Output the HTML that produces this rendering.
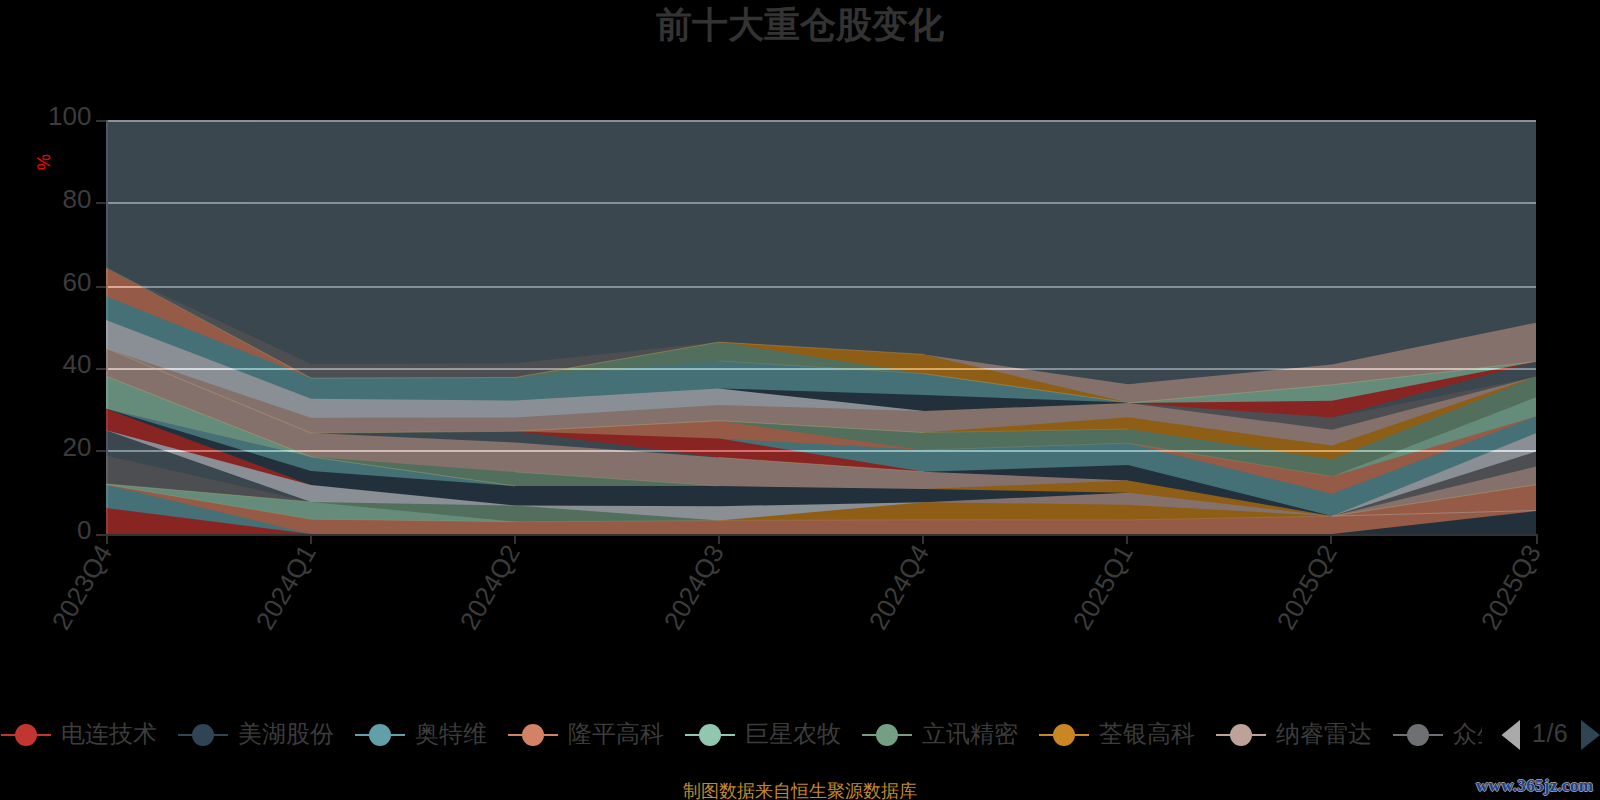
<!DOCTYPE html>
<html><head><meta charset="utf-8"><style>
html,body{margin:0;padding:0;background:#000;width:1600px;height:800px;overflow:hidden}
body{position:relative;font-family:"Liberation Sans",sans-serif}
svg{position:absolute;left:0;top:0}
.title{position:absolute;left:0;width:1600px;top:0.5px;text-align:center;font-size:36px;font-weight:bold;color:#333;line-height:48px}
.yl{position:absolute;left:0;width:91.5px;text-align:right;font-size:26px;color:#3c3c3c;line-height:28px}
.xl{position:absolute;width:200px;text-align:right;font-size:26px;color:#3c3c3c;line-height:30px;transform-origin:100% 50%;transform:rotate(-60deg)}
.pct{position:absolute;left:34px;top:151px;width:20px;height:22px;text-align:center;color:#f00;font-size:18px;transform:rotate(-90deg);line-height:22px}
.legwrap{position:absolute;left:0;top:715px;width:1482px;height:40px;overflow:hidden}
.li{position:absolute;top:0;height:40px;white-space:nowrap}
.ln{position:absolute;left:0;top:19px;width:50px;height:2px}
.dot{position:absolute;left:14px;top:9px;width:22px;height:22px;border-radius:50%}
.lt{position:absolute;left:60px;top:2.5px;font-size:24px;line-height:32px;color:#3c3c3c}
.pg{position:absolute;left:1532px;top:716.5px;font-size:25px;letter-spacing:0.5px;color:#3c3c3c;line-height:32px}
.foot{position:absolute;left:0;width:1600px;top:779.5px;text-align:center;font-size:18px;color:#c08a2a;line-height:22px}
.wm{position:absolute;left:1476px;top:774.5px;font-family:"Liberation Serif",serif;font-weight:bold;font-size:17px;letter-spacing:0.3px;color:#1a4290;line-height:22px;text-shadow:1px 0 0 #999,-1px 0 0 #999,0 1px 0 #999,0 -1px 0 #999}
</style></head><body>
<svg width="1600" height="800" viewBox="0 0 1600 800">
<rect x="0" y="0" width="1600" height="800" fill="#000"/>
<rect x="106" y="120" width="1430" height="2" fill="#fff"/>
<rect x="106" y="202" width="1430" height="2" fill="#fff"/>
<rect x="106" y="286" width="1430" height="2" fill="#fff"/>
<rect x="106" y="368" width="1430" height="2" fill="#fff"/>
<rect x="106" y="450" width="1430" height="2" fill="#fff"/>
<rect x="106" y="120" width="2" height="414" fill="#3c3c3c"/>
<g opacity="0.7">
<polygon points="106.0,534.00 311.0,534.00 311.0,120.00 106.0,120.00" fill="#546570"/>
<polygon points="106.0,534.00 311.0,534.00 311.0,364.00 106.0,268.20" fill="#6e7074"/>
<polygon points="106.0,534.00 311.0,534.00 311.0,378.10 106.0,268.20" fill="#d48265"/>
<polygon points="106.0,534.00 311.0,534.00 311.0,378.10 106.0,296.20" fill="#61a0a8"/>
<polygon points="106.0,534.00 311.0,534.00 311.0,398.70 106.0,320.00" fill="#c4ccd3"/>
<polygon points="106.0,534.00 311.0,534.00 311.0,417.70 106.0,348.60" fill="#bda29a"/>
<polygon points="106.0,534.00 311.0,534.00 311.0,433.10 106.0,348.60" fill="#bda29a"/>
<polygon points="106.0,534.00 311.0,534.00 311.0,456.80 106.0,376.60" fill="#91c7ae"/>
<polygon points="106.0,534.00 311.0,534.00 311.0,456.80 106.0,408.75" fill="#61a0a8"/>
<polygon points="106.0,534.00 311.0,534.00 311.0,471.00 106.0,408.75" fill="#2f4554"/>
<polygon points="106.0,534.00 311.0,534.00 311.0,485.00 106.0,408.75" fill="#c23531"/>
<polygon points="106.0,534.00 311.0,534.00 311.0,485.00 106.0,430.30" fill="#c4ccd3"/>
<polygon points="106.0,534.00 311.0,534.00 311.0,501.90 106.0,430.30" fill="#546570"/>
<polygon points="106.0,534.00 311.0,534.00 311.0,501.90 106.0,455.60" fill="#6e7074"/>
<polygon points="106.0,534.00 311.0,534.00 311.0,501.90 106.0,484.00" fill="#91c7ae"/>
<polygon points="106.0,534.00 311.0,534.00 311.0,519.20 106.0,484.70" fill="#d48265"/>
<polygon points="106.0,534.00 311.0,534.00 311.0,534.00 106.0,484.70" fill="#61a0a8"/>
<polygon points="106.0,534.00 311.0,534.00 311.0,534.00 106.0,508.10" fill="#c23531"/>
<polygon points="311.0,534.00 515.0,534.00 515.0,120.00 311.0,120.00" fill="#546570"/>
<polygon points="311.0,534.00 515.0,534.00 515.0,363.20 311.0,364.00" fill="#6e7074"/>
<polygon points="311.0,534.00 515.0,534.00 515.0,377.50 311.0,378.10" fill="#61a0a8"/>
<polygon points="311.0,534.00 515.0,534.00 515.0,400.60 311.0,398.70" fill="#c4ccd3"/>
<polygon points="311.0,534.00 515.0,534.00 515.0,417.50 311.0,417.70" fill="#bda29a"/>
<polygon points="311.0,534.00 515.0,534.00 515.0,431.30 311.0,433.10" fill="#546570"/>
<polygon points="311.0,534.00 515.0,534.00 515.0,442.50 311.0,433.10" fill="#bda29a"/>
<polygon points="311.0,534.00 515.0,534.00 515.0,472.00 311.0,456.80" fill="#749f83"/>
<polygon points="311.0,534.00 515.0,534.00 515.0,486.00 311.0,456.80" fill="#61a0a8"/>
<polygon points="311.0,534.00 515.0,534.00 515.0,486.00 311.0,471.00" fill="#2f4554"/>
<polygon points="311.0,534.00 515.0,534.00 515.0,505.50 311.0,485.00" fill="#c4ccd3"/>
<polygon points="311.0,534.00 515.0,534.00 515.0,505.50 311.0,501.90" fill="#749f83"/>
<polygon points="311.0,534.00 515.0,534.00 515.0,521.80 311.0,501.90" fill="#91c7ae"/>
<polygon points="311.0,534.00 515.0,534.00 515.0,521.80 311.0,519.20" fill="#d48265"/>
<polygon points="515.0,534.00 719.0,534.00 719.0,120.00 515.0,120.00" fill="#546570"/>
<polygon points="515.0,534.00 719.0,534.00 719.0,342.10 515.0,363.20" fill="#6e7074"/>
<polygon points="515.0,534.00 719.0,534.00 719.0,342.10 515.0,377.50" fill="#749f83"/>
<polygon points="515.0,534.00 719.0,534.00 719.0,360.90 515.0,377.50" fill="#61a0a8"/>
<polygon points="515.0,534.00 719.0,534.00 719.0,388.40 515.0,400.60" fill="#c4ccd3"/>
<polygon points="515.0,534.00 719.0,534.00 719.0,404.90 515.0,417.50" fill="#bda29a"/>
<polygon points="515.0,534.00 719.0,534.00 719.0,420.75 515.0,431.30" fill="#d48265"/>
<polygon points="515.0,534.00 719.0,534.00 719.0,438.40 515.0,431.30" fill="#c23531"/>
<polygon points="515.0,534.00 719.0,534.00 719.0,457.50 515.0,431.30" fill="#546570"/>
<polygon points="515.0,534.00 719.0,534.00 719.0,457.50 515.0,442.50" fill="#bda29a"/>
<polygon points="515.0,534.00 719.0,534.00 719.0,486.00 515.0,472.00" fill="#749f83"/>
<polygon points="515.0,534.00 719.0,534.00 719.0,486.00 515.0,486.00" fill="#2f4554"/>
<polygon points="515.0,534.00 719.0,534.00 719.0,506.25 515.0,505.50" fill="#c4ccd3"/>
<polygon points="515.0,534.00 719.0,534.00 719.0,520.50 515.0,505.50" fill="#749f83"/>
<polygon points="515.0,534.00 719.0,534.00 719.0,520.50 515.0,521.80" fill="#d48265"/>
<polygon points="719.0,534.00 924.0,534.00 924.0,120.00 719.0,120.00" fill="#546570"/>
<polygon points="719.0,534.00 924.0,534.00 924.0,354.40 719.0,342.10" fill="#ca8622"/>
<polygon points="719.0,534.00 924.0,534.00 924.0,373.70 719.0,342.10" fill="#749f83"/>
<polygon points="719.0,534.00 924.0,534.00 924.0,373.70 719.0,360.90" fill="#61a0a8"/>
<polygon points="719.0,534.00 924.0,534.00 924.0,395.00 719.0,388.40" fill="#2f4554"/>
<polygon points="719.0,534.00 924.0,534.00 924.0,411.10 719.0,388.40" fill="#c4ccd3"/>
<polygon points="719.0,534.00 924.0,534.00 924.0,411.10 719.0,404.90" fill="#bda29a"/>
<polygon points="719.0,534.00 924.0,534.00 924.0,432.60 719.0,420.75" fill="#749f83"/>
<polygon points="719.0,534.00 924.0,534.00 924.0,450.00 719.0,420.75" fill="#d48265"/>
<polygon points="719.0,534.00 924.0,534.00 924.0,450.00 719.0,438.40" fill="#61a0a8"/>
<polygon points="719.0,534.00 924.0,534.00 924.0,471.75 719.0,438.40" fill="#c23531"/>
<polygon points="719.0,534.00 924.0,534.00 924.0,471.75 719.0,457.50" fill="#bda29a"/>
<polygon points="719.0,534.00 924.0,534.00 924.0,489.00 719.0,486.00" fill="#2f4554"/>
<polygon points="719.0,534.00 924.0,534.00 924.0,502.20 719.0,506.25" fill="#c4ccd3"/>
<polygon points="719.0,534.00 924.0,534.00 924.0,502.20 719.0,520.50" fill="#ca8622"/>
<polygon points="719.0,534.00 924.0,534.00 924.0,519.75 719.0,520.50" fill="#d48265"/>
<polygon points="924.0,534.00 1128.0,534.00 1128.0,120.00 924.0,120.00" fill="#546570"/>
<polygon points="924.0,534.00 1128.0,534.00 1128.0,384.35 924.0,354.40" fill="#bda29a"/>
<polygon points="924.0,534.00 1128.0,534.00 1128.0,402.60 924.0,354.40" fill="#ca8622"/>
<polygon points="924.0,534.00 1128.0,534.00 1128.0,402.60 924.0,373.70" fill="#61a0a8"/>
<polygon points="924.0,534.00 1128.0,534.00 1128.0,402.60 924.0,395.00" fill="#2f4554"/>
<polygon points="924.0,534.00 1128.0,534.00 1128.0,403.00 924.0,411.10" fill="#bda29a"/>
<polygon points="924.0,534.00 1128.0,534.00 1128.0,417.35 924.0,432.60" fill="#ca8622"/>
<polygon points="924.0,534.00 1128.0,534.00 1128.0,429.05 924.0,432.60" fill="#749f83"/>
<polygon points="924.0,534.00 1128.0,534.00 1128.0,443.20 924.0,450.00" fill="#61a0a8"/>
<polygon points="924.0,534.00 1128.0,534.00 1128.0,465.00 924.0,471.75" fill="#2f4554"/>
<polygon points="924.0,534.00 1128.0,534.00 1128.0,480.50 924.0,471.75" fill="#bda29a"/>
<polygon points="924.0,534.00 1128.0,534.00 1128.0,480.50 924.0,489.00" fill="#ca8622"/>
<polygon points="924.0,534.00 1128.0,534.00 1128.0,492.70 924.0,489.00" fill="#2f4554"/>
<polygon points="924.0,534.00 1128.0,534.00 1128.0,492.70 924.0,502.20" fill="#bda29a"/>
<polygon points="924.0,534.00 1128.0,534.00 1128.0,504.80 924.0,502.20" fill="#ca8622"/>
<polygon points="924.0,534.00 1128.0,534.00 1128.0,519.90 924.0,519.75" fill="#d48265"/>
<polygon points="1128.0,534.00 1332.0,534.00 1332.0,120.00 1128.0,120.00" fill="#546570"/>
<polygon points="1128.0,534.00 1332.0,534.00 1332.0,364.40 1128.0,384.35" fill="#bda29a"/>
<polygon points="1128.0,534.00 1332.0,534.00 1332.0,384.85 1128.0,403.00" fill="#91c7ae"/>
<polygon points="1128.0,534.00 1332.0,534.00 1332.0,400.80 1128.0,403.00" fill="#c23531"/>
<polygon points="1128.0,534.00 1332.0,534.00 1332.0,417.45 1128.0,403.00" fill="#6e7074"/>
<polygon points="1128.0,534.00 1332.0,534.00 1332.0,429.75 1128.0,403.00" fill="#bda29a"/>
<polygon points="1128.0,534.00 1332.0,534.00 1332.0,445.45 1128.0,417.35" fill="#ca8622"/>
<polygon points="1128.0,534.00 1332.0,534.00 1332.0,459.20 1128.0,429.05" fill="#749f83"/>
<polygon points="1128.0,534.00 1332.0,534.00 1332.0,476.50 1128.0,443.20" fill="#d48265"/>
<polygon points="1128.0,534.00 1332.0,534.00 1332.0,493.80 1128.0,443.20" fill="#61a0a8"/>
<polygon points="1128.0,534.00 1332.0,534.00 1332.0,516.10 1128.0,465.00" fill="#2f4554"/>
<polygon points="1128.0,534.00 1332.0,534.00 1332.0,516.10 1128.0,480.50" fill="#ca8622"/>
<polygon points="1128.0,534.00 1332.0,534.00 1332.0,516.10 1128.0,492.70" fill="#bda29a"/>
<polygon points="1128.0,534.00 1332.0,534.00 1332.0,516.10 1128.0,504.80" fill="#ca8622"/>
<polygon points="1128.0,534.00 1332.0,534.00 1332.0,516.10 1128.0,519.90" fill="#d48265"/>
<polygon points="1332.0,534.00 1536.0,534.00 1536.0,120.00 1332.0,120.00" fill="#546570"/>
<polygon points="1332.0,534.00 1536.0,534.00 1536.0,322.65 1332.0,364.40" fill="#bda29a"/>
<polygon points="1332.0,534.00 1536.0,534.00 1536.0,361.60 1332.0,384.85" fill="#91c7ae"/>
<polygon points="1332.0,534.00 1536.0,534.00 1536.0,361.60 1332.0,400.80" fill="#c23531"/>
<polygon points="1332.0,534.00 1536.0,534.00 1536.0,361.60 1332.0,417.45" fill="#546570"/>
<polygon points="1332.0,534.00 1536.0,534.00 1536.0,376.70 1332.0,417.45" fill="#6e7074"/>
<polygon points="1332.0,534.00 1536.0,534.00 1536.0,376.70 1332.0,429.75" fill="#bda29a"/>
<polygon points="1332.0,534.00 1536.0,534.00 1536.0,376.70 1332.0,445.45" fill="#ca8622"/>
<polygon points="1332.0,534.00 1536.0,534.00 1536.0,376.70 1332.0,459.20" fill="#749f83"/>
<polygon points="1332.0,534.00 1536.0,534.00 1536.0,397.30 1332.0,476.50" fill="#91c7ae"/>
<polygon points="1332.0,534.00 1536.0,534.00 1536.0,416.60 1332.0,476.50" fill="#d48265"/>
<polygon points="1332.0,534.00 1536.0,534.00 1536.0,416.60 1332.0,493.80" fill="#61a0a8"/>
<polygon points="1332.0,534.00 1536.0,534.00 1536.0,433.25 1332.0,516.10" fill="#c4ccd3"/>
<polygon points="1332.0,534.00 1536.0,534.00 1536.0,451.60 1332.0,516.10" fill="#6e7074"/>
<polygon points="1332.0,534.00 1536.0,534.00 1536.0,466.50 1332.0,516.10" fill="#bda29a"/>
<polygon points="1332.0,534.00 1536.0,534.00 1536.0,484.70 1332.0,516.10" fill="#d48265"/>
<polygon points="1332.0,534.00 1536.0,534.00 1536.0,510.50 1332.0,516.10" fill="#d48265"/>
<polygon points="1332.0,534.00 1536.0,534.00 1536.0,511.10 1332.0,534.00" fill="#2f4554"/>
</g>
<line x1="107" y1="268.2" x2="311" y2="378.1" stroke="rgba(200,190,120,0.32)" stroke-width="1"/>
<line x1="107" y1="348.6" x2="311" y2="433.1" stroke="rgba(200,190,120,0.32)" stroke-width="1"/>
<line x1="107" y1="376.6" x2="311" y2="456.8" stroke="rgba(200,190,120,0.32)" stroke-width="1"/>
<line x1="107" y1="484.0" x2="311" y2="501.9" stroke="rgba(200,190,120,0.32)" stroke-width="1"/>
<line x1="107" y1="484.7" x2="311" y2="519.2" stroke="rgba(200,190,120,0.18)" stroke-width="1"/>
<line x1="311" y1="378.1" x2="515" y2="377.5" stroke="rgba(200,190,120,0.32)" stroke-width="1"/>
<line x1="311" y1="433.1" x2="515" y2="431.3" stroke="rgba(200,190,120,0.32)" stroke-width="1"/>
<line x1="311" y1="456.8" x2="515" y2="486.0" stroke="rgba(200,190,120,0.32)" stroke-width="1"/>
<line x1="311" y1="519.2" x2="515" y2="521.8" stroke="rgba(200,190,120,0.18)" stroke-width="1"/>
<line x1="515" y1="377.5" x2="719" y2="342.1" stroke="rgba(220,160,70,0.38)" stroke-width="1"/>
<line x1="515" y1="431.3" x2="719" y2="420.75" stroke="rgba(200,190,120,0.32)" stroke-width="1"/>
<line x1="515" y1="472.0" x2="719" y2="486.0" stroke="rgba(200,190,120,0.18)" stroke-width="1"/>
<line x1="515" y1="521.8" x2="719" y2="520.5" stroke="rgba(200,190,120,0.18)" stroke-width="1"/>
<line x1="719" y1="342.1" x2="924" y2="354.4" stroke="rgba(220,160,70,0.38)" stroke-width="1"/>
<line x1="719" y1="420.75" x2="924" y2="432.6" stroke="rgba(200,190,120,0.32)" stroke-width="1"/>
<line x1="719" y1="457.5" x2="924" y2="471.75" stroke="rgba(200,190,120,0.32)" stroke-width="1"/>
<line x1="719" y1="520.5" x2="924" y2="519.75" stroke="rgba(200,190,120,0.18)" stroke-width="1"/>
<line x1="719" y1="360.9" x2="924" y2="373.7" stroke="rgba(200,190,120,0.18)" stroke-width="1"/>
<line x1="924" y1="373.7" x2="1128" y2="402.6" stroke="rgba(200,190,120,0.32)" stroke-width="1"/>
<line x1="924" y1="519.75" x2="1128" y2="519.9" stroke="rgba(200,190,120,0.18)" stroke-width="1"/>
<line x1="924" y1="432.6" x2="1128" y2="429.05" stroke="rgba(200,190,120,0.18)" stroke-width="1"/>
<line x1="924" y1="450.0" x2="1128" y2="443.2" stroke="rgba(200,190,120,0.18)" stroke-width="1"/>
<line x1="1128" y1="403.0" x2="1332" y2="384.85" stroke="rgba(200,190,120,0.32)" stroke-width="1"/>
<line x1="1128" y1="443.2" x2="1332" y2="476.5" stroke="rgba(200,190,120,0.18)" stroke-width="1"/>
<line x1="1128" y1="519.9" x2="1332" y2="516.1" stroke="rgba(200,190,120,0.18)" stroke-width="1"/>
<line x1="1332" y1="516.1" x2="1536" y2="510.5" stroke="rgba(170,170,170,0.5)" stroke-width="1"/>
<line x1="1332" y1="516.1" x2="1536" y2="484.7" stroke="rgba(200,190,120,0.32)" stroke-width="1"/>
<line x1="1332" y1="384.85" x2="1536" y2="361.6" stroke="rgba(200,190,120,0.32)" stroke-width="1"/>
<rect x="106" y="534" width="1432" height="2" fill="#333"/>
<rect x="96" y="120" width="10" height="2" fill="#333"/>
<rect x="96" y="202" width="10" height="2" fill="#333"/>
<rect x="96" y="286" width="10" height="2" fill="#333"/>
<rect x="96" y="368" width="10" height="2" fill="#333"/>
<rect x="96" y="450" width="10" height="2" fill="#333"/>
<rect x="96" y="534" width="10" height="2" fill="#333"/>
<rect x="106" y="534" width="2" height="10" fill="#333"/>
<rect x="310" y="534" width="2" height="10" fill="#333"/>
<rect x="514" y="534" width="2" height="10" fill="#333"/>
<rect x="718" y="534" width="2" height="10" fill="#333"/>
<rect x="922" y="534" width="2" height="10" fill="#333"/>
<rect x="1126" y="534" width="2" height="10" fill="#333"/>
<rect x="1330" y="534" width="2" height="10" fill="#333"/>
<rect x="1536" y="534" width="2" height="10" fill="#333"/>
<polygon points="1520,720 1520,750 1501.5,735" fill="#aaa"/>
<polygon points="1581,720 1581,750 1600,735" fill="#2f4554"/>
</svg>
<div class="title">前十大重仓股变化</div>
<div class="yl" style="top:516.0px">0</div><div class="yl" style="top:433.2px">20</div><div class="yl" style="top:350.4px">40</div><div class="yl" style="top:267.6px">60</div><div class="yl" style="top:184.8px">80</div><div class="yl" style="top:102.0px">100</div>
<div class="xl" style="left:-95.0px;top:532px">2023Q4</div><div class="xl" style="left:109.0px;top:532px">2024Q1</div><div class="xl" style="left:313.0px;top:532px">2024Q2</div><div class="xl" style="left:517.0px;top:532px">2024Q3</div><div class="xl" style="left:722.0px;top:532px">2024Q4</div><div class="xl" style="left:926.0px;top:532px">2025Q1</div><div class="xl" style="left:1130.0px;top:532px">2025Q2</div><div class="xl" style="left:1334.0px;top:532px">2025Q3</div>
<div class="pct">%</div>
<div class="legwrap"><div class="li" style="left:1px"><span class="ln" style="background:#c23531"></span><span class="dot" style="background:#c23531"></span><span class="lt">电连技术</span></div><div class="li" style="left:178px"><span class="ln" style="background:#2f4554"></span><span class="dot" style="background:#2f4554"></span><span class="lt">美湖股份</span></div><div class="li" style="left:355px"><span class="ln" style="background:#61a0a8"></span><span class="dot" style="background:#61a0a8"></span><span class="lt">奥特维</span></div><div class="li" style="left:508px"><span class="ln" style="background:#d48265"></span><span class="dot" style="background:#d48265"></span><span class="lt">隆平高科</span></div><div class="li" style="left:685px"><span class="ln" style="background:#91c7ae"></span><span class="dot" style="background:#91c7ae"></span><span class="lt">巨星农牧</span></div><div class="li" style="left:862px"><span class="ln" style="background:#749f83"></span><span class="dot" style="background:#749f83"></span><span class="lt">立讯精密</span></div><div class="li" style="left:1039px"><span class="ln" style="background:#ca8622"></span><span class="dot" style="background:#ca8622"></span><span class="lt">荃银高科</span></div><div class="li" style="left:1216px"><span class="ln" style="background:#bda29a"></span><span class="dot" style="background:#bda29a"></span><span class="lt">纳睿雷达</span></div><div class="li" style="left:1393px"><span class="ln" style="background:#6e7074"></span><span class="dot" style="background:#6e7074"></span><span class="lt">众生药业</span></div></div>
<div class="pg">1/6</div>
<div class="foot">制图数据来自恒生聚源数据库</div>
<div class="wm">www.365jz.com</div>
</body></html>
